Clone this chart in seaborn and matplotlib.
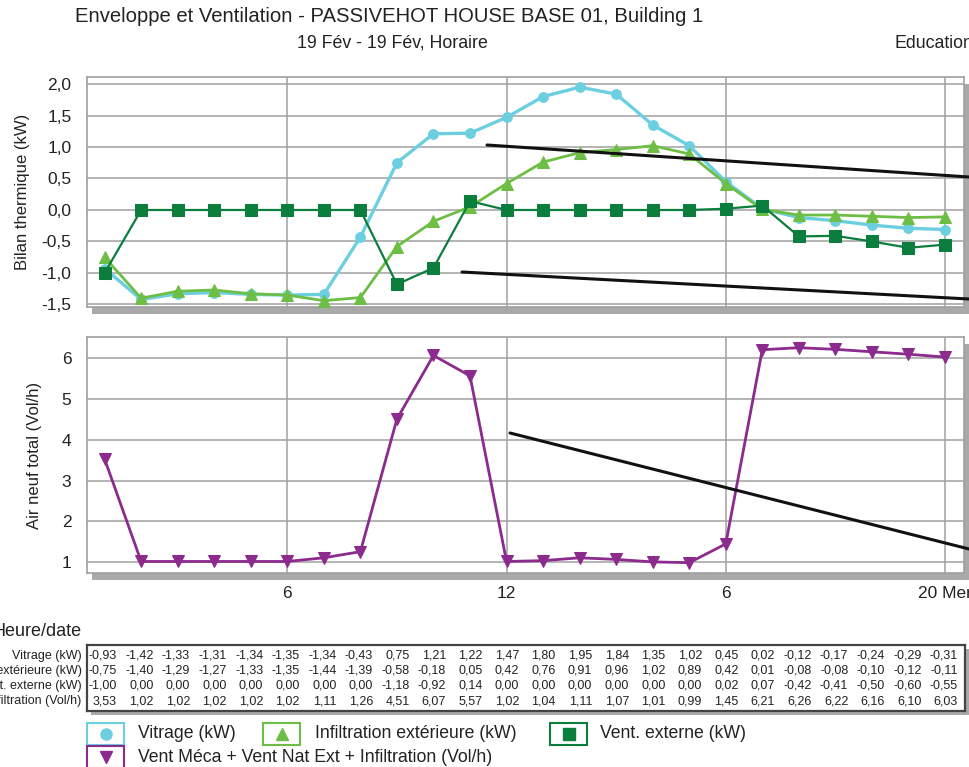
import matplotlib
matplotlib.use('Agg')
import matplotlib.pyplot as plt
import seaborn as sns
import pandas as pd
from matplotlib.patches import Rectangle
from matplotlib.lines import Line2D
from matplotlib.ticker import FuncFormatter
import matplotlib.transforms as mtransforms

# Data (hourly values, 19 Feb)
hours = list(range(1, 25))
vitrage = [-0.93, -1.42, -1.33, -1.31, -1.34, -1.35, -1.34, -0.43, 0.75, 1.21, 1.22, 1.47,
           1.80, 1.95, 1.84, 1.35, 1.02, 0.45, 0.02, -0.12, -0.17, -0.24, -0.29, -0.31]
infiltration = [-0.75, -1.40, -1.29, -1.27, -1.33, -1.35, -1.44, -1.39, -0.58, -0.18, 0.05, 0.42,
                0.76, 0.91, 0.96, 1.02, 0.89, 0.42, 0.01, -0.08, -0.08, -0.10, -0.12, -0.11]
vent_externe = [-1.00, 0.00, 0.00, 0.00, 0.00, 0.00, 0.00, 0.00, -1.18, -0.92, 0.14, 0.00,
                0.00, 0.00, 0.00, 0.00, 0.00, 0.02, 0.07, -0.42, -0.41, -0.50, -0.60, -0.55]
air_neuf = [3.53, 1.02, 1.02, 1.02, 1.02, 1.02, 1.11, 1.26, 4.51, 6.07, 5.57, 1.02,
            1.04, 1.11, 1.07, 1.01, 0.99, 1.45, 6.21, 6.26, 6.22, 6.16, 6.10, 6.03]

series_names = ["Vitrage (kW)", "Infiltration extérieure (kW)", "Vent. externe (kW)",
                "Vent Méca + Vent Nat Ext + Infiltration (Vol/h)"]
series_colors = ["#6CCFE0", "#6DBE45", "#0B7D3C", "#8C2A8E"]
series_markers = ["o", "^", "s", "v"]

x_tick_pos = [6, 12, 18, 24]
x_tick_labels = ["6", "12", "6", "20 Mer"]
top_yticks = [-1.5, -1.0, -0.5, 0.0, 0.5, 1.0, 1.5, 2.0]
bottom_yticks = [1, 2, 3, 4, 5, 6]

sns.set_theme(style="white")
plt.rcParams['font.family'] = ['Liberation Sans', 'DejaVu Sans']

W, H = 969, 767
fig = plt.figure(figsize=(W / 100, H / 100), dpi=100)


def fbox(x0, y0, x1, y1):
    # pixel box (top-left origin) -> figure fraction rect
    return [x0 / W, 1 - y1 / H, (x1 - x0) / W, (y1 - y0) / H]


def shadow(x0, y0, x1, y1, dx=5, dy=7):
    r = fbox(x0 + dx, y0 + dy, x1 + dx, y1 + dy)
    fig.add_artist(Rectangle((r[0], r[1]), r[2], r[3], transform=fig.transFigure,
                             facecolor="#A9A9A9", edgecolor="none", zorder=-5))


grid_col = "#A0A0A0"
comma1 = FuncFormatter(lambda v, p: f"{v:.1f}".replace(".", ","))

# ---- top panel: thermal balance
shadow(86.7, 76.7, 964, 307)
ax1 = fig.add_axes(fbox(86.7, 76.7, 964, 307))
df_top = pd.DataFrame({"heure": hours, "Vitrage": vitrage,
                       "Infiltration": infiltration, "Vent": vent_externe})
sns.lineplot(data=df_top, x="heure", y="Vitrage", ax=ax1, color=series_colors[0],
             marker=series_markers[0], markersize=7, markeredgecolor=series_colors[0],
             linewidth=2.4, zorder=3)
sns.lineplot(data=df_top, x="heure", y="Infiltration", ax=ax1, color=series_colors[1],
             marker=series_markers[1], markersize=9, markeredgecolor=series_colors[1],
             linewidth=2.0, zorder=4)
sns.lineplot(data=df_top, x="heure", y="Vent", ax=ax1, color=series_colors[2],
             marker=series_markers[2], markersize=8, markeredgecolor=series_colors[2],
             linewidth=1.6, zorder=5)
ax1.set_xlim(0.51, 24.52)
ax1.set_ylim(-1.54, 2.116)
ax1.set_yticks(top_yticks)
ax1.yaxis.set_major_formatter(comma1)
ax1.set_xticks(x_tick_pos)
ax1.set_xticklabels([])
ax1.tick_params(axis="x", length=0)
ax1.set_xlabel("")
ax1.set_ylabel("Bilan thermique (kW)", fontsize=12, color="#222222", labelpad=8)

# ---- bottom panel: fresh air
shadow(86.7, 337.3, 964, 573.3)
ax2 = fig.add_axes(fbox(86.7, 337.3, 964, 573.3))
sns.lineplot(x=hours, y=air_neuf, ax=ax2, color=series_colors[3], marker=series_markers[3],
             markersize=9, markeredgecolor=series_colors[3], linewidth=2.0, zorder=3)
ax2.set_xlim(0.51, 24.52)
ax2.set_ylim(0.73, 6.515)
ax2.set_yticks(bottom_yticks)
ax2.set_xticks(x_tick_pos)
ax2.set_xticklabels(x_tick_labels, fontsize=12.5)
ax2.tick_params(axis="x", length=9, width=1, color=grid_col, pad=0)
ax2.set_ylabel("Air neuf total (Vol/h)", fontsize=12, color="#222222", labelpad=14)

for ax in (ax1, ax2):
    ax.set_facecolor("white")
    ax.grid(True, color=grid_col, linewidth=1.1)
    ax.set_axisbelow(True)
    for s in ax.spines.values():
        s.set_color(grid_col)
        s.set_linewidth(1.2)
    ax.tick_params(axis="y", length=8, width=1, color=grid_col, labelsize=12.5,
                   labelcolor="#222222", pad=3)
    ax.tick_params(axis="x", labelcolor="#222222")

# ---- data table
shadow(87, 645, 965, 711, dx=4, dy=4)
axt = fig.add_axes(fbox(87, 645, 965, 711))
axt.set_xlim(0.51, 24.52)
axt.set_ylim(3.66, -0.71)
axt.set_xticks([])
axt.set_yticks([])
axt.set_facecolor("white")
for s in axt.spines.values():
    s.set_color("#444444")
    s.set_linewidth(1.6)
lab_tr = mtransforms.blended_transform_factory(axt.transAxes, axt.transData)
for row, (name, vals) in enumerate(zip(series_names,
                                       [vitrage, infiltration, vent_externe, air_neuf])):
    axt.text(-0.006, row, name, transform=lab_tr, ha="right", va="center",
             fontsize=9, color="#222222", clip_on=False)
    for h, v in zip(hours, vals):
        axt.text(h + 0.33, row, f"{v:.2f}".replace(".", ","), ha="right", va="center",
                 fontsize=9, color="#222222")

fig.text(82 / W, 1 - 632 / H, "Heure/date", ha="right", va="center", fontsize=13,
         color="#222222")

# ---- legend (boxed markers)
legend_boxes = [(87, 723, 124, 745, 138), (263, 723, 300, 745, 315),
                (550, 723, 587, 745, 600), (87, 746, 124, 768, 138)]
for (x0, y0, x1, y1, tx), name, col, mk in zip(legend_boxes, series_names,
                                               series_colors, series_markers):
    r = fbox(x0, y0, x1, y1)
    fig.add_artist(Rectangle((r[0], r[1]), r[2], r[3], transform=fig.transFigure,
                             facecolor="white", edgecolor=col, linewidth=1.5))
    fig.add_artist(Line2D([r[0] + r[2] / 2], [r[1] + r[3] / 2], transform=fig.transFigure,
                          marker=mk, color=col, markersize=8, linestyle="none"))
    fig.text(tx / W, 1 - (y0 + y1) / 2 / H, name, ha="left", va="center", fontsize=12.7,
             color="#222222")

# ---- titles
fig.text(75 / W, 1 - 17 / H, "Enveloppe et Ventilation - PASSIVEHOT HOUSE BASE 01, Building 1",
         ha="left", va="center", fontsize=14.6, color="#222222")
fig.text(297 / W, 1 - 43 / H, "19 Fév - 19 Fév, Horaire", ha="left", va="center",
         fontsize=12.8, color="#222222")
fig.text(894 / W, 1 - 43 / H, "Education", ha="left", va="center", fontsize=12.8,
         color="#222222")

# ---- black annotation strokes drawn over the chart
for (x0, y0, x1, y1) in [(487, 145, 969, 177), (462, 272, 969, 299), (510, 433, 969, 549)]:
    fig.add_artist(Line2D([x0 / W, x1 / W], [1 - y0 / H, 1 - y1 / H],
                          transform=fig.transFigure, color="#111111", linewidth=2.2, zorder=10))

fig.savefig("out.png", dpi=100)
